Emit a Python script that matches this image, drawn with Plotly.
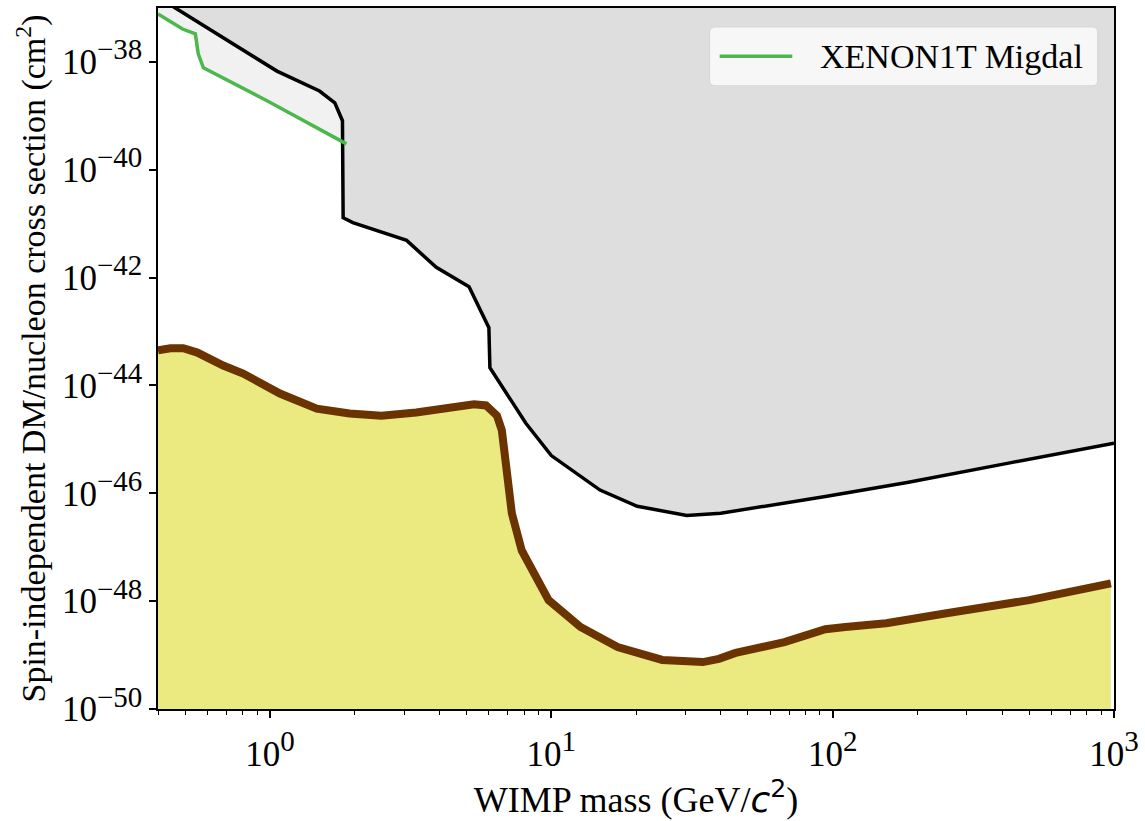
import plotly.graph_objects as go

# WIMP mass (GeV/c^2) and spin-independent cross section (cm^2) for each curve

# XENON1T Migdal exclusion limit
migdal_mass = [0.40, 0.489, 0.543, 0.556, 0.580, 0.976, 1.87]
migdal_xsec = [10**-37.11, 10**-37.39, 10**-37.48, 10**-37.85, 10**-38.11,
               10**-38.72, 10**-39.52]

# Combined existing exclusion limit (boundary of the grey region)
limit_mass = [0.40, 0.454, 0.836, 1.059, 1.50, 1.70, 1.81, 1.82, 1.97, 3.06,
              3.90, 5.10, 6.00, 6.05, 8.12, 10.0, 14.9, 20.2, 30.3, 40.0,
              94.2, 184, 422, 1000]
limit_xsec = [10**-36.80, 10**-36.98, 10**-37.85, 10**-38.17, 10**-38.54,
              10**-38.76, 10**-39.09, 10**-40.89, 10**-40.98, 10**-41.31,
              10**-41.81, 10**-42.17, 10**-42.93, 10**-43.67, 10**-44.70,
              10**-45.30, 10**-45.94, 10**-46.24, 10**-46.41, 10**-46.37,
              10**-46.06, 10**-45.80, 10**-45.44, 10**-45.07]

# Projected sensitivity (boundary of the yellow region)
proj_mass = [0.40, 0.443, 0.492, 0.552, 0.682, 0.803, 1.085, 1.467, 1.918,
             2.49, 3.31, 4.33, 5.31, 5.86, 6.41, 6.67, 6.95, 7.24, 7.85, 8.80,
             9.78, 12.7, 17.2, 24.8, 34.6, 39.4, 45.2, 67.4, 88.3, 94.2, 111,
             155, 257, 422, 500, 975]
proj_xsec = [10**-43.35, 10**-43.31, 10**-43.31, 10**-43.39, 10**-43.63,
             10**-43.78, 10**-44.15, 10**-44.43, 10**-44.52, 10**-44.56,
             10**-44.50, 10**-44.41, 10**-44.35, 10**-44.37, 10**-44.56,
             10**-44.83, 10**-45.52, 10**-46.37, 10**-47.06, 10**-47.56,
             10**-47.98, 10**-48.48, 10**-48.85, 10**-49.09, 10**-49.13,
             10**-49.07, 10**-48.96, 10**-48.76, 10**-48.59, 10**-48.52,
             10**-48.48, 10**-48.41, 10**-48.22, 10**-48.04, 10**-47.98,
             10**-47.67]

# Axis settings
MASS_MIN, MASS_MAX = 0.4, 1000
XSEC_EXP_MIN, XSEC_EXP_MAX = -50, -37
x_tick_exps = [0, 1, 2, 3]
y_tick_exps = [-38, -40, -42, -44, -46, -48, -50]

Y_TOP = 10 ** (XSEC_EXP_MAX + 1)
Y_BOTTOM = 10 ** (XSEC_EXP_MIN - 1)

FONT = "Liberation Serif, Times New Roman, serif"
MIGDAL_COLOR = "#4cb84c"
SUP = '<sup><span style="font-size:29px">{}</span></sup>'

fig = go.Figure()

# Light grey: region excluded by the Migdal analysis
fig.add_trace(go.Scatter(
    x=migdal_mass + [migdal_mass[-1], migdal_mass[0]],
    y=migdal_xsec + [Y_TOP, Y_TOP],
    fill="toself", fillcolor="#f1f1f1", line=dict(width=0),
    mode="lines", showlegend=False, hoverinfo="skip"))

# Dark grey: combined excluded region
fig.add_trace(go.Scatter(
    x=limit_mass + [limit_mass[-1], limit_mass[0]],
    y=limit_xsec + [Y_TOP, Y_TOP],
    fill="toself", fillcolor="#dedede", line=dict(width=0),
    mode="lines", showlegend=False, hoverinfo="skip"))

# Yellow: projected sensitivity region
fig.add_trace(go.Scatter(
    x=proj_mass + [proj_mass[-1], proj_mass[0]],
    y=proj_xsec + [Y_BOTTOM, Y_BOTTOM],
    fill="toself", fillcolor="#eaea80", line=dict(width=0),
    mode="lines", showlegend=False, hoverinfo="skip"))

# Limit curves
fig.add_trace(go.Scatter(
    x=limit_mass, y=limit_xsec, mode="lines",
    line=dict(color="black", width=3.5), showlegend=False))
fig.add_trace(go.Scatter(
    x=migdal_mass, y=migdal_xsec, mode="lines",
    line=dict(color=MIGDAL_COLOR, width=3.5), name="XENON1T Migdal",
    showlegend=False))
fig.add_trace(go.Scatter(
    x=proj_mass, y=proj_xsec, mode="lines",
    line=dict(color="#6b3300", width=8), showlegend=False))

minor_x = [m * 10 ** e for e in (-1, 0, 1, 2) for m in range(2, 10)
           if MASS_MIN <= m * 10 ** e <= MASS_MAX]

fig.update_xaxes(
    type="log", range=[-0.39794, 3],
    tickmode="array",
    tickvals=[10 ** e for e in x_tick_exps],
    ticktext=["10" + SUP.format(e) for e in x_tick_exps],
    ticks="outside", ticklen=7, tickwidth=1.5, tickcolor="black",
    ticklabelstandoff=6,
    minor=dict(ticks="outside", ticklen=4, tickwidth=1, tickcolor="black",
               tickmode="array", tickvals=minor_x, showgrid=False),
    showline=True, linecolor="black", linewidth=1.5, mirror=True,
    showgrid=False, zeroline=False,
    tickfont=dict(family=FONT, size=35, color="black"),
    title=dict(text='WIMP mass (GeV/<span style="font-family:DejaVu Sans"><i>c</i><sup>2</sup></span>)',
               font=dict(family=FONT, size=36, color="black"), standoff=4),
)
fig.update_yaxes(
    type="log", range=[XSEC_EXP_MIN, XSEC_EXP_MAX],
    tickmode="array",
    tickvals=[10 ** e for e in y_tick_exps],
    ticktext=["10" + SUP.format(f"\u2212{-e}") for e in y_tick_exps],
    ticks="outside", ticklen=7, tickwidth=1.5, tickcolor="black",
    showline=True, linecolor="black", linewidth=1.5, mirror=True,
    showgrid=False, zeroline=False,
    tickfont=dict(family=FONT, size=35, color="black"),
)

# Y axis title, placed as a rotated annotation left of the tick labels
fig.add_annotation(
    text="Spin-independent DM/nucleon cross section (cm<sup>2</sup>)",
    xref="paper", yref="paper", x=0, y=0.5, xshift=-127,
    xanchor="center", yanchor="middle", textangle=-90, showarrow=False,
    font=dict(family=FONT, size=34, color="black"))

# Legend box with rounded corners, drawn in paper coordinates
LX0, LX1, LY0, LY1 = 0.577, 0.983, 0.889, 0.973
RX, RY = 0.006, 0.008
legend_path = (
    f"M {LX0+RX},{LY0} L {LX1-RX},{LY0} Q {LX1},{LY0} {LX1},{LY0+RY} "
    f"L {LX1},{LY1-RY} Q {LX1},{LY1} {LX1-RX},{LY1} "
    f"L {LX0+RX},{LY1} Q {LX0},{LY1} {LX0},{LY1-RY} "
    f"L {LX0},{LY0+RY} Q {LX0},{LY0} {LX0+RX},{LY0} Z"
)
LEG_Y = (LY0 + LY1) / 2
fig.add_shape(type="path", path=legend_path, xref="paper", yref="paper",
              fillcolor="rgba(248,248,248,0.92)",
              line=dict(color="#d6d6d6", width=1), layer="above")
fig.add_shape(type="line", xref="paper", yref="paper",
              x0=0.5875, x1=0.6635, y0=LEG_Y, y1=LEG_Y,
              line=dict(color=MIGDAL_COLOR, width=3.5), layer="above")
fig.add_annotation(text="XENON1T Migdal", xref="paper", yref="paper",
                   x=0.690, y=LEG_Y, xanchor="left", yanchor="middle",
                   showarrow=False,
                   font=dict(family=FONT, size=34, color="black"))

fig.update_layout(
    width=1145, height=821,
    margin=dict(l=158, r=27, t=6, b=112),
    paper_bgcolor="white", plot_bgcolor="white",
    font=dict(family=FONT, color="black"),
    showlegend=False,
)

fig.write_html("out.html")
